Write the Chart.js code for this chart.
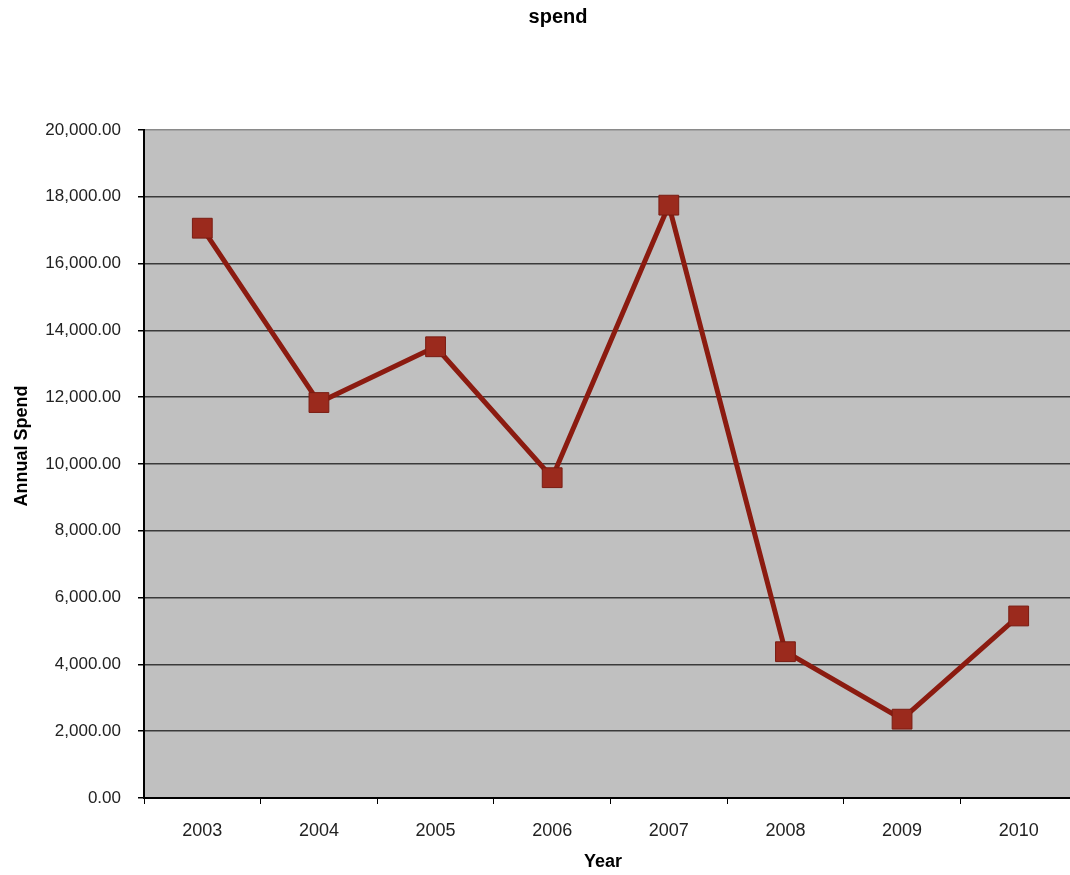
<!DOCTYPE html>
<html lang="en">
<head>
  <meta charset="UTF-8" />
  <title>spend</title>
  <script src="https://cdn.jsdelivr.net/npm/chart.js"></script>
  <style>
    html, body { margin: 0; padding: 0; background: #fff; overflow: hidden; }
    canvas { display: block; }
  </style>
</head>
<body>
  <canvas id="spendChart" width="1092" height="875"></canvas>

  <script>
    // values
    const years = ['2003', '2004', '2005', '2006', '2007', '2008', '2009', '2010'];
    const annualSpend = [17060, 11840, 13510, 9590, 17750, 4380, 2360, 5450];
    const yMin = 0;
    const yMax = 20000;
    const yStep = 2000;
    const titleText = 'spend';
    const yTitleText = 'Annual Spend';
    const xTitleText = 'Year';

    const fontFamily = '"Liberation Sans", Arial, sans-serif';

    // grey plot area plus the titles, placed like the original
    const decorations = {
      id: 'decorations',
      beforeDraw(chart) {
        const { ctx, chartArea: a } = chart;
        ctx.save();
        ctx.fillStyle = '#c0c0c0';
        ctx.fillRect(a.left, a.top, a.right - a.left, a.bottom - a.top);
        ctx.restore();
      },
      afterDraw(chart) {
        const { ctx } = chart;
        ctx.save();
        ctx.fillStyle = '#000';
        ctx.textAlign = 'center';
        ctx.textBaseline = 'middle';
        ctx.font = 'bold 20px ' + fontFamily;
        ctx.fillText(titleText, 558, 17);
        ctx.font = 'bold 18px ' + fontFamily;
        ctx.fillText(xTitleText, 603, 862);
        ctx.translate(22, 446);
        ctx.rotate(-Math.PI / 2);
        ctx.fillText(yTitleText, 0, 0);
        ctx.restore();
      }
    };

    new Chart(document.getElementById('spendChart'), {
      type: 'line',
      data: {
        labels: years,
        datasets: [{
          label: yTitleText,
          data: annualSpend,
          borderColor: '#8b1b10',
          borderWidth: 5,
          tension: 0,
          pointStyle: 'rect',
          pointRadius: 14,
          pointHoverRadius: 14,
          pointBackgroundColor: '#9b2a1d',
          pointBorderColor: '#7a1c12',
          pointBorderWidth: 1
        }]
      },
      options: {
        responsive: false,
        animation: false,
        layout: { padding: { left: 0, right: 2, top: 130, bottom: 0 } },
        plugins: {
          legend: { display: false },
          tooltip: { enabled: false },
          title: { display: false }
        },
        scales: {
          x: {
            offset: true,
            grid: {
              offset: true,
              drawOnChartArea: false,
              drawTicks: true,
              tickLength: 6,
              tickColor: '#000'
            },
            border: { display: true, color: '#000', width: 2 },
            ticks: {
              color: '#222',
              padding: 16,
              font: { family: fontFamily, size: 18 }
            },
            title: { display: false },
            afterFit(scale) { scale.height = 77; }
          },
          y: {
            min: yMin,
            max: yMax,
            grid: {
              color: ctx => (ctx.tick && ctx.tick.value === yMax) ? '#8a8a8a' : '#3a3a3a',
              lineWidth: 1.5,
              drawTicks: true,
              tickLength: 6,
              tickColor: '#000'
            },
            border: { display: true, color: '#000', width: 2 },
            ticks: {
              stepSize: yStep,
              color: '#222',
              padding: 17,
              font: { family: fontFamily, size: 17 },
              callback: v => v.toLocaleString('en-US', { minimumFractionDigits: 2, maximumFractionDigits: 2 })
            },
            title: { display: false },
            afterFit(scale) { scale.width = 144; }
          }
        }
      },
      plugins: [decorations]
    });
  </script>
</body>
</html>
